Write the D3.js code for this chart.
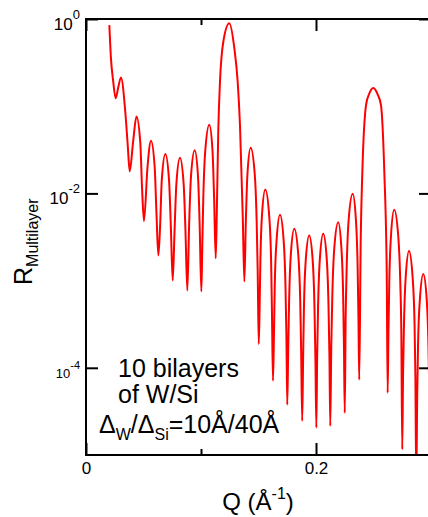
<!DOCTYPE html>
<html>
<head>
<meta charset="utf-8">
<script src="https://cdn.jsdelivr.net/npm/d3@7.9.0/dist/d3.min.js"></script>
<style>
    html, body { margin: 0; padding: 0; background: #fff; }
    svg { display: block; font-family: "Liberation Sans", Arial, sans-serif; }
</style>
</head>
<body>
<div id="chart"></div>
<script>
// ---------- DATA ----------

// Q in 1/Angstrom
const qValues = [
    0.0203, 0.0217, 0.0237, 0.0258, 0.0281, 0.0304, 0.0342, 0.0363, 0.0380, 0.0410,
    0.0439, 0.0472, 0.0488, 0.0504, 0.0535, 0.0565, 0.0597, 0.0613, 0.0629, 0.0644,
    0.0659, 0.0690, 0.0722, 0.0738, 0.0754, 0.0770, 0.0786, 0.0817, 0.0849, 0.0865,
    0.0881, 0.0897, 0.0913, 0.0945, 0.0974, 0.0988, 0.1003, 0.1011, 0.1020, 0.1037,
    0.1072, 0.1100, 0.1114, 0.1128, 0.1137, 0.1150, 0.1165, 0.1194, 0.1246, 0.1290,
    0.1319, 0.1339, 0.1363, 0.1377, 0.1390, 0.1404, 0.1432, 0.1467, 0.1484, 0.1493,
    0.1502, 0.1509, 0.1516, 0.1530, 0.1559, 0.1593, 0.1610, 0.1617, 0.1626, 0.1634,
    0.1641, 0.1657, 0.1687, 0.1719, 0.1735, 0.1743, 0.1750, 0.1758, 0.1766, 0.1781,
    0.1811, 0.1846, 0.1863, 0.1871, 0.1880, 0.1888, 0.1895, 0.1910, 0.1941, 0.1972,
    0.1987, 0.1995, 0.2003, 0.2010, 0.2018, 0.2033, 0.2063, 0.2094, 0.2109, 0.2117,
    0.2124, 0.2133, 0.2142, 0.2159, 0.2193, 0.2221, 0.2236, 0.2243, 0.2250, 0.2258,
    0.2267, 0.2284, 0.2319, 0.2347, 0.2362, 0.2369, 0.2376, 0.2389, 0.2403, 0.2435,
    0.2461, 0.2498, 0.2536, 0.2565, 0.2594, 0.2615, 0.2623, 0.2630, 0.2637, 0.2652,
    0.2680, 0.2715, 0.2733, 0.2742, 0.2750, 0.2757, 0.2765, 0.2780, 0.2809, 0.2840,
    0.2857, 0.2864, 0.2872, 0.2880, 0.2887, 0.2903, 0.2933, 0.2963, 0.2978, 0.2986,
    0.2994
];

// reflectivity of the multilayer
const rValues = [
    0.85, 0.353, 0.190, 0.123, 0.166, 0.214, 0.0853, 0.0356, 0.0179, 0.0396,
    0.0762, 0.0383, 0.0110, 0.00481, 0.0202, 0.0401, 0.0202, 0.00581, 0.00194, 0.00410,
    0.0142, 0.0283, 0.0142, 0.00410, 0.00100, 0.00371, 0.0129, 0.0256, 0.0129, 0.00371,
    0.000767, 0.00452, 0.0157, 0.0312, 0.0157, 0.00452, 0.000748, 0.00237, 0.00887, 0.0308,
    0.0613, 0.0308, 0.00887, 0.00180, 0.00559, 0.0507, 0.190, 0.548, 0.893, 0.460,
    0.190, 0.0605, 0.00559, 0.000975, 0.00483, 0.0168, 0.0333, 0.0168, 0.00483, 0.00129,
    0.000187, 0.000427, 0.00160, 0.00556, 0.0111, 0.00556, 0.00160, 0.000427, 7.10e-5, 0.000219,
    0.000824, 0.00286, 0.00569, 0.00286, 0.000824, 0.000219, 3.76e-5, 0.000151, 0.000569, 0.00197,
    0.00393, 0.00197, 0.000569, 0.000151, 2.46e-5, 0.000127, 0.000477, 0.00165, 0.00329, 0.00165,
    0.000477, 0.000127, 2.06e-5, 0.000133, 0.000499, 0.00173, 0.00344, 0.00173, 0.000499, 0.000133,
    2.15e-5, 0.000180, 0.000678, 0.00235, 0.00468, 0.00235, 0.000678, 0.000180, 3.04e-5, 0.000383,
    0.00144, 0.00499, 0.00993, 0.00499, 0.00144, 0.000383, 7.28e-5, 0.00304, 0.0176, 0.103,
    0.137, 0.162, 0.137, 0.103, 0.0176, 0.00125, 5.16e-5, 0.000251, 0.000941, 0.00327,
    0.00650, 0.00327, 0.000941, 0.000251, 1.16e-5, 8.41e-5, 0.000316, 0.00110, 0.00218, 0.00110,
    0.000316, 8.41e-5, 5e-6, 4.60e-5, 0.000173, 0.000600, 0.00119, 0.000600, 0.000173, 4.60e-5,
    5e-6
];

// TICKS
const xMajorTicks = [0, 0.2];
const xMinorTicks = [0.1];
const yTicks = [1, 1e-2, 1e-4];
const yTickExp = ["0", "-2", "-4"];

// ANNOTATION
const noteLines = ["10 bilayers", "of W/Si"];


// ---------- LAYOUT ----------

const width = 428;
const height = 517;
const plot = { left: 86, top: 19, right: 431, bottom: 455 };

const svg = d3.select("#chart")
    .append("svg")
    .attr("width", width)
    .attr("height", height);

const x = d3.scaleLinear()
    .domain([0, 0.3])
    .range([plot.left, plot.right]);

const y = d3.scaleLog()
    .domain([1e-5, 1])
    .range([plot.bottom, plot.top]);


// ---------- CURVE ----------

svg.append("clipPath")
    .attr("id", "plotClip")
    .append("rect")
    .attr("x", plot.left)
    .attr("y", plot.top)
    .attr("width", plot.right - plot.left)
    .attr("height", plot.bottom - plot.top);

const points = qValues.map((q, i) => ({ q: q, r: rValues[i] }));

const line = d3.line()
    .x(d => x(d.q))
    .y(d => y(d.r))
    .curve(d3.curveMonotoneX);

svg.append("path")
    .datum(points)
    .attr("clip-path", "url(#plotClip)")
    .attr("fill", "none")
    .attr("stroke", "#ff0000")
    .attr("stroke-width", 2)
    .attr("stroke-linejoin", "round")
    .attr("d", line);


// ---------- AXES ----------

// bottom, labelled majors
const xAxis = svg.append("g")
    .attr("transform", `translate(0,${plot.bottom})`)
    .call(d3.axisBottom(x).tickValues(xMajorTicks).tickSize(-12).tickPadding(7)
        .tickFormat(d => d === 0 ? "0" : d3.format(".1f")(d)));
xAxis.selectAll("text").attr("font-size", 17).attr("fill", "#000");

svg.append("g")
    .attr("transform", `translate(0,${plot.bottom})`)
    .call(d3.axisBottom(x).tickValues(xMinorTicks).tickSize(-6).tickFormat(""));

// top, ticks only
svg.append("g")
    .attr("transform", `translate(0,${plot.top})`)
    .call(d3.axisTop(x).tickValues(xMajorTicks).tickSize(-12).tickFormat(""));
svg.append("g")
    .attr("transform", `translate(0,${plot.top})`)
    .call(d3.axisTop(x).tickValues(xMinorTicks).tickSize(-6).tickFormat(""));

// left, powers of ten
const yAxis = svg.append("g")
    .attr("transform", `translate(${plot.left},0)`)
    .call(d3.axisLeft(y).tickValues(yTicks).tickSize(-12).tickPadding(6).tickFormat(""));

yAxis.selectAll(".tick text")
    .each(function(d, i) {
        const small = i === 2;
        const t = d3.select(this)
            .attr("dy", null)
            .attr("y", 10)
            .attr("fill", "#000")
            .attr("font-size", small ? 13 : 17);
        t.append("tspan").text("10");
        t.append("tspan")
            .attr("font-size", small ? 11 : 13)
            .attr("dy", small ? -9 : -11)
            .text(yTickExp[i]);
    });

// right, ticks only
svg.append("g")
    .attr("transform", `translate(${plot.right},0)`)
    .call(d3.axisRight(y).tickValues(yTicks).tickSize(-12).tickFormat(""));

svg.selectAll(".domain").remove();
svg.selectAll(".tick line").attr("stroke", "#000").attr("stroke-width", 2);

// frame
svg.append("rect")
    .attr("x", plot.left)
    .attr("y", plot.top)
    .attr("width", plot.right - plot.left)
    .attr("height", plot.bottom - plot.top)
    .attr("fill", "none")
    .attr("stroke", "#000")
    .attr("stroke-width", 2);


// ---------- AXIS TITLES ----------

const xTitle = svg.append("text")
    .attr("x", 258)
    .attr("y", 510)
    .attr("text-anchor", "middle")
    .attr("font-size", 24);
xTitle.append("tspan").text("Q (Å");
xTitle.append("tspan").attr("font-size", 16).attr("dy", -11).text("-1");
xTitle.append("tspan").attr("dy", 11).text(")");

const yTitle = svg.append("text")
    .attr("transform", "translate(32,285) rotate(-90)")
    .attr("font-size", 25);
yTitle.append("tspan").text("R");
yTitle.append("tspan").attr("font-size", 16).attr("dy", 6).text("Multilayer");


// ---------- ANNOTATION ----------

svg.selectAll(".note")
    .data(noteLines)
    .join("text")
    .attr("class", "note")
    .attr("x", 118)
    .attr("y", (d, i) => 377 + i * 26)
    .attr("font-size", 25)
    .text(d => d);

const ratio = svg.append("text")
    .attr("x", 99)
    .attr("y", 433)
    .attr("font-size", 25);
ratio.append("tspan").text("Δ");
ratio.append("tspan").attr("font-size", 16).attr("dy", 7).text("W");
ratio.append("tspan").attr("dy", -7).text("/Δ");
ratio.append("tspan").attr("font-size", 16).attr("dy", 7).text("Si");
ratio.append("tspan").attr("dy", -7).text("=10Å/40Å");
</script>
</body>
</html>
